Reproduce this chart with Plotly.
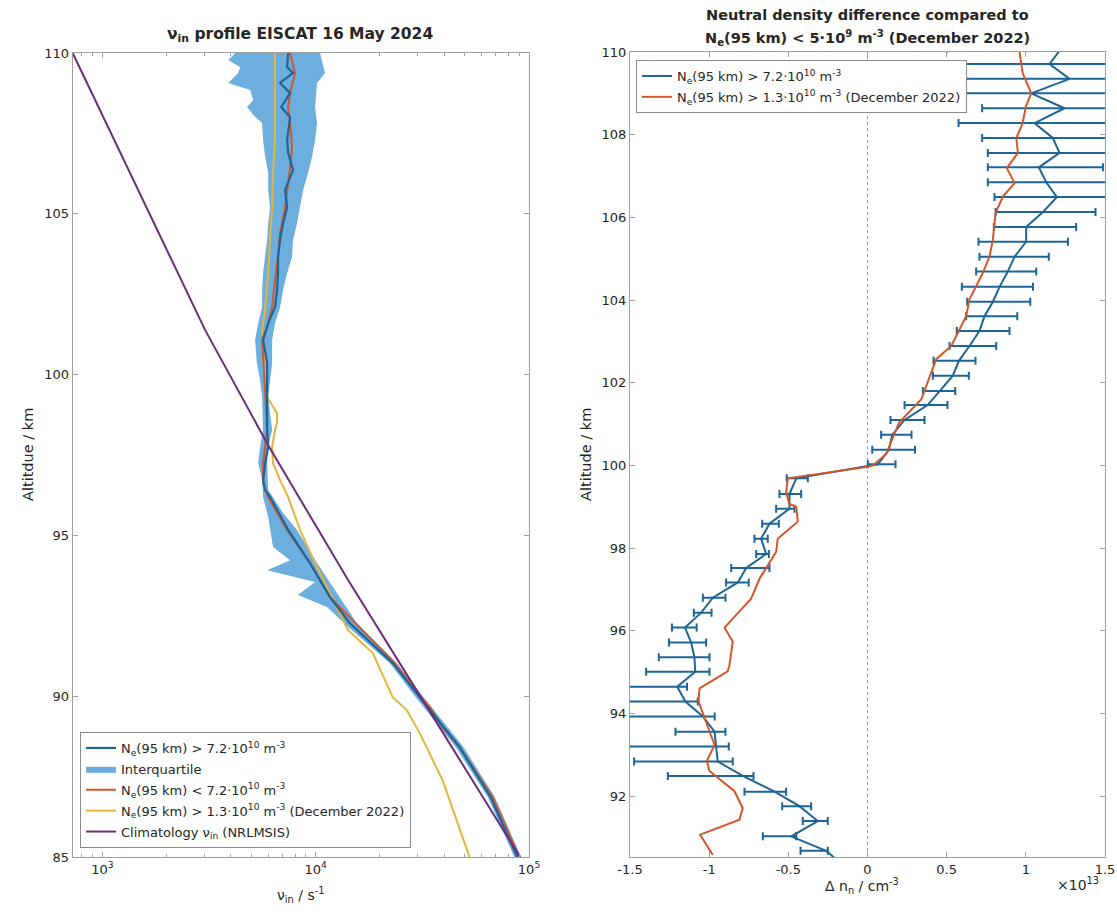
import plotly.graph_objects as go

# ---------------- Left panel: ion-neutral collision frequency profiles ----------------
# Median profile, Ne(95 km) > 7.2e10 m^-3
alt_high = [110.0, 109.56, 109.38, 109.07, 108.76, 108.32, 108.0, 107.3, 106.9, 106.36,
            105.74, 105.2, 104.7, 104.2, 103.66, 103.16, 102.63, 102.1, 101.6, 101.08,
            100.36, 99.3, 98.28, 97.75, 97.25, 96.72, 96.4, 96.2, 95.17, 94.14,
            93.08, 92.27, 91.03, 89.97, 88.42, 86.87, 85.0]
nu_high = [7430, 7350, 7830, 6810, 7590, 6900, 7590, 7350, 7430, 7830,
           7190, 7350, 7030, 6810, 6660, 6660, 6590, 6450, 5990, 5670,
           5920, 5920, 5920, 5990, 5800, 5670, 5800, 6110, 7430, 9400,
           11670, 14460, 22970, 30710, 47230, 66000, 88100]

# Interquartile range of the Ne(95 km) > 7.2e10 m^-3 group
alt_q1 = [110.0, 109.78, 109.56, 109.38, 109.07, 108.85, 108.54, 108.32, 108.07, 107.82,
          107.29, 106.77, 106.27, 105.74, 105.21, 104.71, 104.19, 103.66, 103.16, 102.63,
          102.1, 101.6, 101.08, 100.36, 99.83, 99.3, 98.28, 97.75, 97.25, 96.72,
          96.19, 95.57, 94.64, 94.23, 93.92, 93.55, 93.15, 92.77, 92.15, 91.03,
          89.97, 88.42, 86.87, 85.0]
nu_q1 = [4200, 3890, 4430, 4330, 3890, 4930, 5100, 4770, 5100, 5610,
         5670, 5800, 5990, 5990, 6110, 5990, 5920, 5800, 5670, 5610,
         5610, 5380, 5200, 5300, 5490, 5610, 5670, 5490, 5380, 5610,
         5670, 5990, 6310, 7590, 5920, 9930, 8260, 11300, 14200, 22230,
         29440, 45300, 64000, 85300]
alt_q3 = [110.0, 109.38, 109.07, 108.32, 107.82, 107.29, 106.77, 106.27, 105.74, 105.21,
          104.71, 104.19, 103.66, 103.16, 102.63, 102.1, 101.6, 101.08, 100.36, 99.3,
          98.8, 98.28, 97.75, 97.25, 96.41, 95.7, 95.17, 94.14, 93.08, 92.27,
          91.03, 89.97, 88.42, 86.87, 85.0]
nu_q3 = [10480, 11060, 10150, 9930, 10150, 9930, 9610, 9210, 8730, 8450,
         8180, 7830, 7750, 7350, 7030, 6810, 6450, 6250, 6250, 5990,
         6110, 6250, 5990, 5920, 5990, 7030, 8180, 10150, 13000, 15600,
         23990, 32060, 49300, 69000, 92000]

# Median profile, Ne(95 km) < 7.2e10 m^-3
alt_low = [110.0, 109.38, 108.76, 108.32, 107.82, 107.08, 106.46, 105.96, 105.21, 104.41,
           103.66, 102.94, 102.1, 101.48, 101.08, 100.36, 99.3, 98.28, 97.25, 96.63,
           96.19, 95.17, 94.14, 93.08, 91.03, 90.19, 89.66, 89.04, 88.42, 86.87, 85.0]
nu_low = [7590, 8000, 7590, 7430, 7590, 7750, 7590, 7430, 7190, 6810,
          6660, 6450, 6250, 5920, 5610, 5700, 5800, 5920, 5670, 5670,
          5990, 7350, 9400, 11670, 23500, 29300, 34300, 39340, 47230, 67500, 90000]

# Median profile, December 2022, Ne(95 km) > 1.3e10 m^-3
alt_dec = [110.0, 107.3, 106.27, 105.21, 104.19, 103.16, 102.1, 101.39, 100.36, 99.3,
           98.8, 98.5, 98.28, 97.75, 97.25, 96.72, 96.19, 95.17, 94.14, 93.08,
           92.06, 91.34, 89.97, 89.57, 88.86, 87.39, 85.0]
nu_dec = [6450, 6450, 6310, 6250, 6110, 5990, 5800, 5610, 5800, 5920,
          6590, 6590, 6450, 6250, 6310, 6810, 7430, 8450, 9930, 11900,
          14160, 18530, 22970, 26710, 30710, 39340, 52600]

# NRLMSIS climatological collision frequency
alt_msis = [110.0, 101.39, 97.81, 93.61, 89.66, 85.0]
nu_msis = [726, 3030, 5980, 14190, 33270, 90800]

# ---------------- Right panel: neutral density difference (units of 1e13 cm^-3) ----------------
alt_dn = [110.07, 109.71, 109.35, 109.00, 108.64, 108.28, 107.92, 107.56, 107.21, 106.85,
          106.49, 106.13, 105.77, 105.41, 105.05, 104.69, 104.32, 103.96, 103.61, 103.25,
          102.89, 102.53, 102.17, 101.80, 101.46, 101.10, 100.74, 100.38, 100.03, 99.69,
          99.31, 98.95, 98.59, 98.23, 97.86, 97.52, 97.17, 96.80, 96.44, 96.08,
          95.72, 95.36, 95.01, 94.65, 94.29, 93.93, 93.56, 93.20, 92.84, 92.49,
          92.11, 91.76, 91.40, 91.03, 90.68, 90.32]
dn_mid = [1.22, 1.15, 1.276, 1.034, 1.244, 1.055, 1.17, 1.213, 1.082, 1.129,
          1.196, 1.108, 1.002, 1.002, 0.929, 0.886, 0.834, 0.792, 0.739, 0.707,
          0.644, 0.577, 0.539, 0.455, 0.38, 0.234, 0.156, 0.135, 0.065, -0.45,
          -0.493, -0.493, -0.619, -0.672, -0.64, -0.766, -0.819, -0.977, -1.05, -1.153,
          -1.114, -1.093, -1.088, -1.202, -1.15, -1.04, -0.966, -0.956, -0.946, -0.788,
          -0.587, -0.43, -0.314, -0.482, -0.261, -0.15]
dn_lo = [0.5, 0.5, 0.5, 0.5, 0.724, 0.575, 0.724, 0.76, 0.76, 0.76,
         0.802, 0.809, 0.798, 0.701, 0.707, 0.686, 0.596, 0.63, 0.623, 0.564,
         0.518, 0.417, 0.413, 0.35, 0.234, 0.145, 0.086, 0.03, 0.002, -0.51,
         -0.556, -0.577, -0.665, -0.714, -0.703, -0.861, -0.893, -1.04, -1.097, -1.235,
         -1.254, -1.318, -1.398, -1.6, -1.6, -1.6, -1.213, -1.6, -1.474, -1.261,
         -0.777, -0.539, -0.409, -0.661, -0.423, -0.3]
dn_hi = [1.7, 1.75, 1.8, 1.6, 1.7, 1.6, 1.65, 1.62, 1.487, 1.55,
         1.6, 1.44, 1.318, 1.266, 1.145, 1.066, 1.045, 1.028, 0.946, 0.897,
         0.813, 0.682, 0.64, 0.554, 0.505, 0.36, 0.278, 0.30, 0.177, -0.377,
         -0.419, -0.461, -0.56, -0.63, -0.623, -0.619, -0.75, -0.897, -0.985, -1.079,
         -1.019, -0.998, -0.998, -1.14, -1.072, -0.965, -0.897, -0.876, -0.851, -0.72,
         -0.514, -0.356, -0.251, -0.45, -0.251, -0.05]

alt_dn_dec = [110.01, 109.49, 109.0, 108.68, 108.28, 107.92, 107.56, 107.19, 106.83, 106.51,
              106.11, 105.46, 105.06, 104.66, 104.02, 103.61, 103.21, 102.89, 102.57, 102.25,
              101.93, 101.60, 101.04, 100.68, 100.28, 100.0, 99.96, 99.69, 99.35, 99.07,
              99.0, 98.64, 98.23, 97.91, 97.50, 97.26, 96.78, 96.30, 96.08, 95.74,
              95.17, 95.02, 94.61, 94.29, 93.24, 92.85, 92.61, 92.12, 91.71, 91.43,
              91.07, 90.58]
dn_dec = [0.96, 0.98, 1.034, 1.0, 0.98, 0.94, 0.95, 0.88, 0.929, 0.856,
          0.809, 0.792, 0.771, 0.729, 0.644, 0.623, 0.571, 0.529, 0.434, 0.402,
          0.371, 0.34, 0.2, 0.16, 0.118, 0.034, -0.008, -0.503, -0.514, -0.493,
          -0.45, -0.44, -0.567, -0.577, -0.64, -0.682, -0.735, -0.851, -0.903, -0.851,
          -0.872, -0.883, -1.061, -1.067, -0.966, -1.015, -0.998, -0.84, -0.788, -0.809,
          -1.057, -0.977]

left_xticks = [1e3, 1e4, 1e5]
left_xticktext = ["10<sup>3</sup>", "10<sup>4</sup>", "10<sup>5</sup>"]
left_yticks = [85, 90, 95, 100, 105, 110]
right_xticks = [-1.5, -1.0, -0.5, 0.0, 0.5, 1.0, 1.5]
right_xticktext = ["-1.5", "-1", "-0.5", "0", "0.5", "1", "1.5"]
right_yticks = [92, 94, 96, 98, 100, 102, 104, 106, 108, 110]

BLUE = "#1d6596"
ORANGE = "#D2572A"
YELLOW = "#E5B53A"
PURPLE = "#6E2D7C"
BAND = "#6CAEDD"
FONT = "DejaVu Sans"

NE_HIGH = "N<sub>e</sub>(95 km) &gt; 7.2·10<sup>10</sup> m<sup>-3</sup>"
NE_LOW = "N<sub>e</sub>(95 km) &lt; 7.2·10<sup>10</sup> m<sup>-3</sup>"
NE_DEC = "N<sub>e</sub>(95 km) &gt; 1.3·10<sup>10</sup> m<sup>-3</sup> (December 2022)"

fig = go.Figure()

# interquartile band as a closed polygon
band_x = nu_q1 + nu_q3[::-1]
band_y = alt_q1 + alt_q3[::-1]
fig.add_trace(go.Scatter(x=band_x, y=band_y, fill="toself", fillcolor=BAND,
                         line=dict(width=0, color=BAND), mode="lines",
                         name="Interquartile", legendrank=2, legendgroup="iqr",
                         legend="legend", xaxis="x", yaxis="y", hoverinfo="skip"))
fig.add_trace(go.Scatter(x=nu_dec, y=alt_dec, mode="lines", line=dict(color=YELLOW, width=2),
                         name=NE_DEC, legendrank=4, legendgroup="dec",
                         legend="legend", xaxis="x", yaxis="y"))
fig.add_trace(go.Scatter(x=nu_low, y=alt_low, mode="lines", line=dict(color=ORANGE, width=2),
                         name=NE_LOW, legendrank=3, legendgroup="low",
                         legend="legend", xaxis="x", yaxis="y"))
fig.add_trace(go.Scatter(x=nu_high, y=alt_high, mode="lines", line=dict(color=BLUE, width=2.2),
                         name=NE_HIGH, legendrank=1, legendgroup="high",
                         legend="legend", xaxis="x", yaxis="y"))
fig.add_trace(go.Scatter(x=nu_msis, y=alt_msis, mode="lines", line=dict(color=PURPLE, width=2),
                         name="Climatology ν<sub>in</sub> (NRLMSIS)", legendrank=5,
                         legendgroup="msis", legend="legend", xaxis="x", yaxis="y"))

# right panel
err_plus = [h - m for h, m in zip(dn_hi, dn_mid)]
err_minus = [m - l for m, l in zip(dn_mid, dn_lo)]
fig.add_trace(go.Scatter(x=dn_mid, y=alt_dn, mode="lines", line=dict(color=BLUE, width=2),
                         error_x=dict(type="data", symmetric=False, array=err_plus,
                                      arrayminus=err_minus, color=BLUE, thickness=2, width=4),
                         name=NE_HIGH, legendrank=1, legendgroup="r_high",
                         legend="legend2", xaxis="x2", yaxis="y2"))
fig.add_trace(go.Scatter(x=dn_dec, y=alt_dn_dec, mode="lines", line=dict(color=ORANGE, width=2),
                         name=NE_DEC, legendrank=2, legendgroup="r_dec",
                         legend="legend2", xaxis="x2", yaxis="y2"))

# zero reference line
fig.add_shape(type="line", xref="x2", yref="y2 domain", x0=0, x1=0, y0=0, y1=1,
              line=dict(color="#E07A7A", width=1, dash="dot"), layer="below")

W, H = 1117, 912
axis_common = dict(showline=True, linecolor="#a0a0a0", linewidth=1, mirror="ticks",
                   ticks="inside", tickcolor="#a0a0a0", ticklen=5, showgrid=False,
                   zeroline=False, automargin=False,
                   tickfont=dict(family=FONT, size=13, color="#262626"))

minor_vals = [800, 900] + [k * 1000 for k in range(2, 10)] + [k * 10000 for k in range(2, 10)]

legend_style = dict(bgcolor="white", bordercolor="#8c8c8c", borderwidth=1,
                    font=dict(family=FONT, size=13, color="#262626"),
                    traceorder="grouped", tracegroupgap=1, itemwidth=30)

fig.update_layout(
    width=W, height=H, margin=dict(l=0, r=0, t=0, b=0, pad=0, autoexpand=False),
    paper_bgcolor="white", plot_bgcolor="white",
    font=dict(family=FONT, size=13, color="#262626"),
    xaxis=dict(domain=[72.7 / W, 529 / W], type="log", range=[2.861, 5.0],
               tickvals=left_xticks, ticktext=left_xticktext, anchor="y",
               minor=dict(tickvals=minor_vals, ticks="inside", ticklen=3, tickcolor="#a0a0a0"),
               **axis_common),
    yaxis=dict(domain=[(H - 857) / H, (H - 53) / H], range=[85, 110], tickvals=left_yticks,
               anchor="x", **axis_common),
    xaxis2=dict(domain=[630 / W, 1105 / W], range=[-1.5, 1.5], tickvals=right_xticks,
                ticktext=right_xticktext, anchor="y2", **axis_common),
    yaxis2=dict(domain=[(H - 857) / H, (H - 52) / H], range=[90.53, 110], tickvals=right_yticks,
                anchor="x2", **axis_common),
    legend=dict(x=80 / W, y=(H - 848) / H, xanchor="left", yanchor="bottom", **legend_style),
    legend2=dict(x=636 / W, y=(H - 60) / H, xanchor="left", yanchor="top", **legend_style),
    showlegend=True,
)

def note(text, x, y, size=14, angle=0, xanchor="center", yanchor="middle"):
    fig.add_annotation(text=text, x=x / W, y=(H - y) / H, xref="paper", yref="paper",
                       showarrow=False, textangle=angle, xanchor=xanchor, yanchor=yanchor,
                       font=dict(family=FONT, size=size, color="#262626"))

note("<b>ν<sub>in</sub> profile EISCAT 16 May 2024</b>", 300, 35, size=15.5)
note("<b>Neutral density difference compared to</b>", 867, 15, size=14.5)
note("<b>N<sub>e</sub>(95 km) &lt; 5·10<sup>9</sup> m<sup>-3</sup> (December 2022)</b>", 867, 38, size=14.5)
note("ν<sub>in</sub> / s<sup>-1</sup>", 300, 895, size=14)
note("Δ n<sub>n</sub> / cm<sup>-3</sup>", 862, 886, size=14)
note("×10<sup>13</sup>", 1078, 884, size=14)
note("Altitdue / km", 28, 455, size=14.5, angle=-90)
note("Altitude / km", 586, 455, size=14.5, angle=-90)

fig.write_html("out.html")
